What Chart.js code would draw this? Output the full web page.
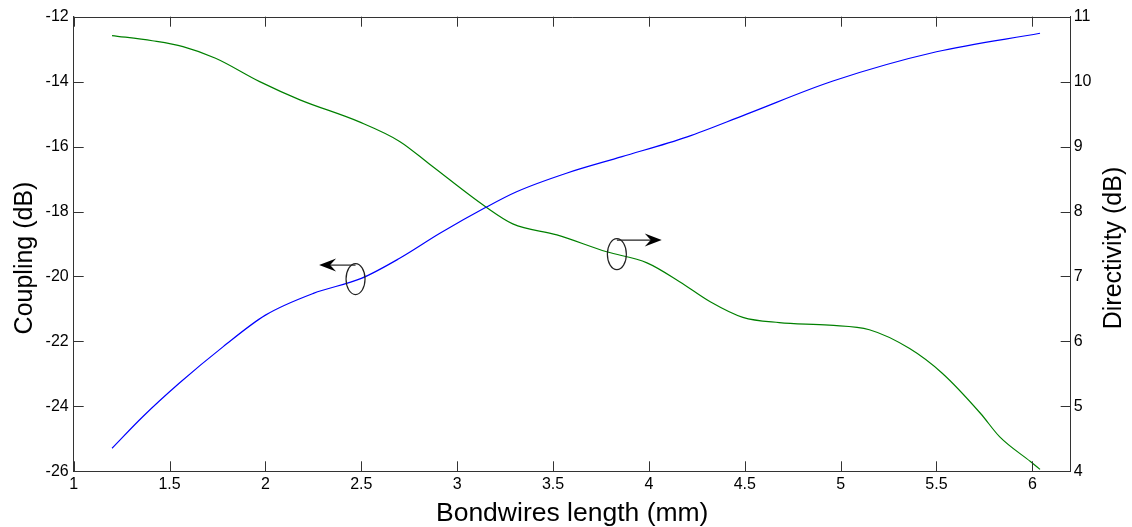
<!DOCTYPE html>
<html lang="en">
<head>
    <meta charset="UTF-8">
    <title>Coupling and Directivity vs Bondwires length</title>
    <script src="https://cdn.jsdelivr.net/npm/chart.js"></script>
    <style>
        html, body { margin: 0; padding: 0; background: #fff; }
        #chart { display: block; }
    </style>
</head>
<body>
    <canvas id="chart" width="1132" height="527"></canvas>

    <script>
        // Coupling (left axis, blue)
        const couplingLength = [1.2, 1.36, 1.55, 1.78, 2.0, 2.25, 2.5, 2.7, 2.91, 3.15, 3.31, 3.57, 3.86, 4.2, 4.51, 4.96, 5.5, 6.04];
        const couplingDb = [-25.29, -24.32, -23.29, -22.16, -21.19, -20.52, -20.06, -19.44, -18.67, -17.87, -17.39, -16.82, -16.31, -15.7, -15.0, -13.98, -13.08, -12.51];

        // Directivity (right axis, green)
        const directivityLength = [1.2, 1.41, 1.57, 1.74, 1.97, 2.18, 2.49, 2.7, 2.86, 3.15, 3.29, 3.52, 3.78, 3.99, 4.16, 4.32, 4.49, 4.68, 4.94, 5.15, 5.36, 5.53, 5.73, 5.83, 5.99, 6.04];
        const directivityDb = [10.71, 10.63, 10.54, 10.36, 10.0, 9.72, 9.38, 9.08, 8.72, 8.07, 7.81, 7.64, 7.38, 7.21, 6.92, 6.61, 6.37, 6.29, 6.25, 6.18, 5.89, 5.51, 4.89, 4.53, 4.15, 4.03];

        // tick labels
        const xTicks = [1, 1.5, 2, 2.5, 3, 3.5, 4, 4.5, 5, 5.5, 6];
        const leftTicks = [-26, -24, -22, -20, -18, -16, -14, -12];
        const rightTicks = [4, 5, 6, 7, 8, 9, 10, 11];

        const axisColor = '#333';
        const tickFont = { family: 'Liberation Sans', size: 16 };
        const titleFont = '25px "Liberation Sans"';

        function toPoints(xs, ys) {
            return xs.map((x, i) => ({ x: x, y: ys[i] }));
        }

        function setTicks(values) {
            return scale => { scale.ticks = values.map(v => ({ value: v })); };
        }

        // inward MATLAB-style ticks, top border, y titles and the two axis markers
        const matlabBox = {
            id: 'matlabBox',
            afterDatasetsDraw(chart) {
                const ctx = chart.ctx;
                const area = chart.chartArea;
                const x = chart.scales.x, y = chart.scales.y, y1 = chart.scales.y1;
                const len = 10;

                ctx.save();
                ctx.strokeStyle = axisColor;
                ctx.lineWidth = 1;
                ctx.beginPath();
                ctx.moveTo(area.left, Math.round(area.top) + 0.5);
                ctx.lineTo(area.right, Math.round(area.top) + 0.5);
                xTicks.forEach(v => {
                    const px = Math.round(x.getPixelForValue(v)) + 0.5;
                    ctx.moveTo(px, area.bottom);
                    ctx.lineTo(px, area.bottom - len);
                    ctx.moveTo(px, area.top);
                    ctx.lineTo(px, area.top + len);
                });
                leftTicks.forEach(v => {
                    const py = Math.round(y.getPixelForValue(v)) + 0.5;
                    ctx.moveTo(area.left, py);
                    ctx.lineTo(area.left + len, py);
                });
                rightTicks.forEach(v => {
                    const py = Math.round(y1.getPixelForValue(v)) + 0.5;
                    ctx.moveTo(area.right, py);
                    ctx.lineTo(area.right - len, py);
                });
                ctx.stroke();

                // markers: ellipse on the curve with an arrow pointing to its axis
                drawMarker(ctx, x.getPixelForValue(2.47), y.getPixelForValue(-20.08),
                    y.getPixelForValue(-19.65), x.getPixelForValue(2.28));
                drawMarker(ctx, x.getPixelForValue(3.833), y1.getPixelForValue(7.343),
                    y1.getPixelForValue(7.56), x.getPixelForValue(4.067));

                // both y titles read bottom to top
                ctx.fillStyle = '#000';
                ctx.font = titleFont;
                ctx.textAlign = 'center';
                ctx.textBaseline = 'middle';
                drawVertical(ctx, 'Coupling (dB)', 25, 258);
                drawVertical(ctx, 'Directivity (dB)', 1114, 248);
                ctx.restore();
            }
        };

        function drawVertical(ctx, text, cx, cy) {
            ctx.save();
            ctx.translate(cx, cy);
            ctx.rotate(-Math.PI / 2);
            ctx.fillText(text, 0, 0);
            ctx.restore();
        }

        function drawMarker(ctx, cx, cy, arrowY, tipX) {
            ctx.strokeStyle = '#222';
            ctx.fillStyle = '#000';
            ctx.lineWidth = 1.2;
            ctx.beginPath();
            ctx.ellipse(cx, cy, 9.5, 15.5, 0, 0, Math.PI * 2);
            ctx.stroke();

            const dir = tipX < cx ? -1 : 1;
            ctx.beginPath();
            ctx.moveTo(cx, arrowY);
            ctx.lineTo(tipX - dir * 10, arrowY);
            ctx.stroke();

            ctx.beginPath();
            ctx.moveTo(tipX, arrowY);
            ctx.lineTo(tipX - dir * 17, arrowY - 6.5);
            ctx.lineTo(tipX - dir * 11, arrowY);
            ctx.lineTo(tipX - dir * 17, arrowY + 6.5);
            ctx.closePath();
            ctx.fill();
        }

        new Chart(document.getElementById('chart'), {
            type: 'line',
            data: {
                datasets: [{
                    label: 'Coupling (dB)',
                    data: toPoints(couplingLength, couplingDb),
                    yAxisID: 'y',
                    borderColor: '#0000ff',
                    borderWidth: 1.2,
                    pointRadius: 0,
                    cubicInterpolationMode: 'monotone'
                }, {
                    label: 'Directivity (dB)',
                    data: toPoints(directivityLength, directivityDb),
                    yAxisID: 'y1',
                    borderColor: '#008000',
                    borderWidth: 1.2,
                    pointRadius: 0,
                    cubicInterpolationMode: 'monotone'
                }]
            },
            options: {
                responsive: false,
                animation: false,
                layout: { padding: { top: 16.7, left: 0, right: 0, bottom: 0 } },
                plugins: {
                    legend: { display: false },
                    tooltip: { enabled: false }
                },
                scales: {
                    x: {
                        type: 'linear',
                        min: 1,
                        max: 6.2,
                        afterBuildTicks: setTicks(xTicks),
                        afterFit: scale => { scale.height = 55.7; },
                        grid: { display: false, drawTicks: false, tickLength: 0 },
                        border: { display: true, color: axisColor, width: 1 },
                        ticks: {
                            font: tickFont,
                            color: '#000',
                            padding: 4,
                            maxRotation: 0,
                            autoSkip: false,
                            callback: v => String(v)
                        },
                        title: {
                            display: true,
                            text: 'Bondwires length (mm)',
                            font: { family: 'Liberation Sans', size: 26.5, lineHeight: 1.2 },
                            color: '#000',
                            padding: { top: 0, bottom: -3 }
                        }
                    },
                    y: {
                        position: 'left',
                        min: -26,
                        max: -12,
                        afterBuildTicks: setTicks(leftTicks),
                        afterFit: scale => { scale.width = 73.7; },
                        grid: { display: false, drawTicks: false, tickLength: 0 },
                        border: { display: true, color: axisColor, width: 1 },
                        ticks: { font: tickFont, color: '#000', padding: 5, autoSkip: false }
                    },
                    y1: {
                        position: 'right',
                        min: 4,
                        max: 11,
                        afterBuildTicks: setTicks(rightTicks),
                        afterFit: scale => { scale.width = 61.3; },
                        grid: { display: false, drawTicks: false, tickLength: 0 },
                        border: { display: true, color: axisColor, width: 1 },
                        ticks: { font: tickFont, color: '#000', padding: 3, autoSkip: false }
                    }
                }
            },
            plugins: [matlabBox]
        });
    </script>
</body>
</html>
